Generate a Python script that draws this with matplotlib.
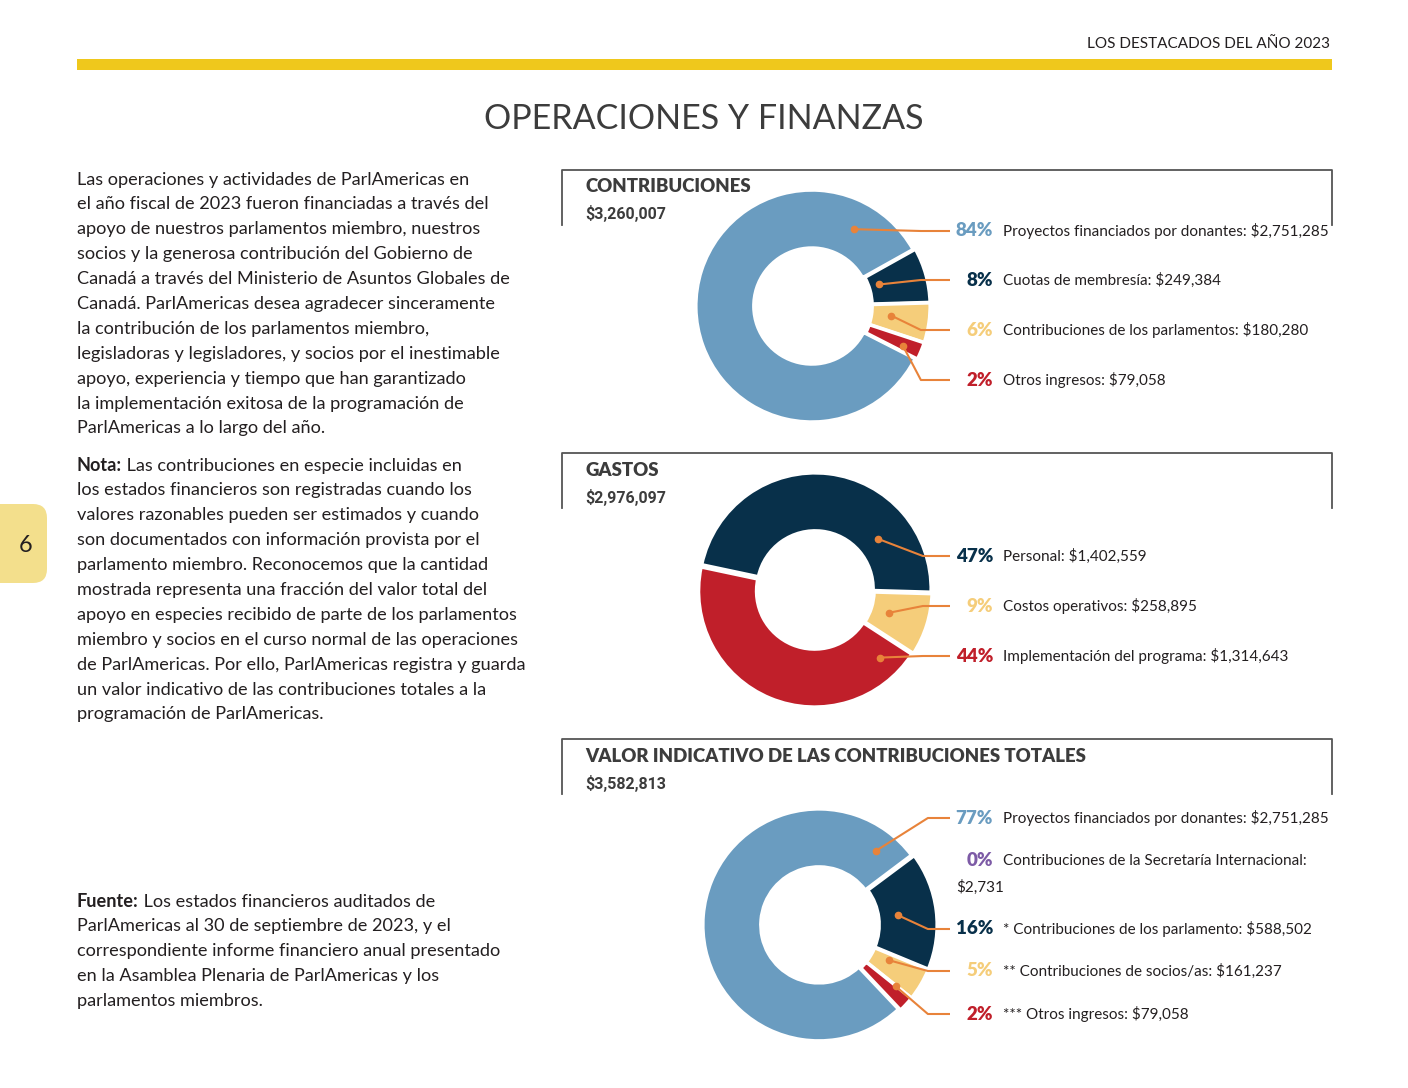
import numpy as np
import matplotlib
matplotlib.use("Agg")
import matplotlib.pyplot as plt
from matplotlib.patches import FancyBboxPatch

# page size in pixels
W, H = 1408, 1088

# ---- data ----
contrib_labels = ["Proyectos financiados por donantes", "Cuotas de membresía",
                  "Contribuciones de los parlamentos", "Otros ingresos"]
contrib_values = [2751285, 249384, 180280, 79058]

gastos_labels = ["Personal", "Costos operativos", "Implementación del programa"]
gastos_values = [1402559, 258895, 1314643]

total_labels = ["Proyectos financiados por donantes", "Contribuciones de la Secretaría Internacional",
                "* Contribuciones de los parlamento", "** Contribuciones de socios/as",
                "*** Otros ingresos"]
total_values = [2751285, 2731, 588502, 161237, 79058]

header = "LOS DESTACADOS DEL AÑO 2023"
title = "OPERACIONES Y FINANZAS"
page_no = "6"

para1 = ["Las operaciones y actividades de ParlAmericas en",
         "el año fiscal de 2023 fueron financiadas a través del",
         "apoyo de nuestros parlamentos miembro, nuestros",
         "socios y la generosa contribución del Gobierno de",
         "Canadá a través del Ministerio de Asuntos Globales de",
         "Canadá. ParlAmericas desea agradecer sinceramente",
         "la contribución de los parlamentos miembro,",
         "legisladoras y legisladores, y socios por el inestimable",
         "apoyo, experiencia y tiempo que han garantizado",
         "la implementación exitosa de la programación de",
         "ParlAmericas a lo largo del año."]
para2 = ["Las contribuciones en especie incluidas en",
         "los estados financieros son registradas cuando los",
         "valores razonables pueden ser estimados y cuando",
         "son documentados con información provista por el",
         "parlamento miembro. Reconocemos que la cantidad",
         "mostrada representa una fracción del valor total del",
         "apoyo en especies recibido de parte de los parlamentos",
         "miembro y socios en el curso normal de las operaciones",
         "de ParlAmericas. Por ello, ParlAmericas registra y guarda",
         "un valor indicativo de las contribuciones totales a la",
         "programación de ParlAmericas."]
para3 = ["Los estados financieros auditados de",
         "ParlAmericas al 30 de septiembre de 2023, y el",
         "correspondiente informe financiero anual presentado",
         "en la Asamblea Plenaria de ParlAmericas y los",
         "parlamentos miembros."]

# ---- styles ----
BLUE, NAVY, SAND, RED, PURPLE = "#6a9cc0", "#08304a", "#f5cd7a", "#c01f2a", "#7d5ba6"
ORANGE = "#e8833a"
TXT = "#231f20"
GREY = "#3c3c3c"
BODY = "Lato"
BODY_FS = 13.1
LAB_FS = 11

fig = plt.figure(figsize=(W / 100, H / 100), dpi=100)
bg = fig.add_axes([0, 0, 1, 1])
bg.set_xlim(0, W)
bg.set_ylim(H, 0)
bg.axis("off")

# header, yellow rule, title
bg.text(1330, 44, header, ha="right", va="center", fontsize=11, color=TXT, family=BODY)
bg.fill_between([77, 1332], 59, 70, color="#efc81c", lw=0)
bg.text(704, 119, title, ha="center", va="center", fontsize=24.5, color=GREY, family=BODY)

# page tab
bg.add_patch(FancyBboxPatch((-30, 504), 77, 79, boxstyle="round,pad=0,rounding_size=14",
                            fc="#f3df8c", ec="none"))
bg.text(26, 545, page_no, ha="center", va="center", fontsize=17, color=TXT, family=BODY)


def paragraph(lines, y0, lead=None, step=24.9):
    for i, line in enumerate(lines):
        y = y0 + i * step
        if i == 0 and lead:
            t = bg.text(77, y, lead, ha="left", va="center", fontsize=BODY_FS, color=TXT,
                        family=BODY, fontweight="bold")
            bg.annotate(" " + line, xy=(1, 0), xycoords=t, ha="left", va="bottom",
                        fontsize=BODY_FS, color=TXT, family=BODY)
        else:
            bg.text(77, y, line, ha="left", va="center", fontsize=BODY_FS, color=TXT,
                    family=BODY)


paragraph(para1, 179.5)
paragraph(para2, 465.5, lead="Nota:")
paragraph(para3, 901.5, lead="Fuente:")

# leader lines go on an overlay above the donuts
top = fig.add_axes([0, 0, 1, 1], zorder=5)
top.set_xlim(0, W)
top.set_ylim(H, 0)
top.axis("off")

R = 116
LIM = 1.2


def panel(y, name, values, labels, colors, cx, cy, startangle, dots, label_ys, pct_colors):
    # box frame
    bg.plot([562, 562, 1332, 1332], [y + 55, y, y, y + 55], color="#555555", lw=1.3)
    bg.text(585, y + 17, name, ha="left", va="center", fontsize=13.4, color=GREY,
            family="Lato", fontweight="heavy")
    total = sum(values)
    bg.text(585, y + 44, f"${total:,}", ha="left", va="center", fontsize=11.5, color=GREY,
            family="Roboto", fontweight="bold")

    ax = fig.add_axes([(cx - R * LIM) / W, (H - cy - R * LIM) / H,
                       2 * R * LIM / W, 2 * R * LIM / H])
    ax.pie(values, colors=colors, startangle=startangle, counterclock=False,
           radius=1.0, explode=[0.01] * len(values),
           wedgeprops=dict(width=0.5, edgecolor="white", linewidth=2.5))
    ax.set_xlim(-LIM, LIM)
    ax.set_ylim(-LIM, LIM)
    ax.axis("off")

    for i, (v, lab) in enumerate(zip(values, labels)):
        pct = f"{round(100 * v / total):d}%"
        ly = label_ys[i]
        top.text(993, ly, pct, ha="right", va="center", fontsize=13.5, color=pct_colors[i],
                 family="Lato", fontweight="heavy")
        if dots[i] is None:
            # no leader; long label wraps
            top.text(1003, ly, lab + ":", ha="left", va="center", fontsize=LAB_FS,
                     color=TXT, family=BODY)
            top.text(956, ly + 26, f"${v:,}", ha="left", va="center", fontsize=LAB_FS,
                     color=TXT, family=BODY)
            continue
        top.text(1003, ly, f"{lab}: ${v:,}", ha="left", va="center", fontsize=LAB_FS,
                 color=TXT, family=BODY)
        ang, rr = dots[i]
        dx = cx + rr * R * np.cos(np.radians(ang))
        dy = cy - rr * R * np.sin(np.radians(ang))
        ex = cx + 0.93 * R
        top.plot([dx, ex, 950], [dy, ly, ly], color=ORANGE, lw=1.5, solid_capstyle="butt")
        top.plot(dx, dy, "o", color=ORANGE, ms=4.5)


panel(170, "CONTRIBUCIONES", contrib_values, contrib_labels,
      [BLUE, NAVY, SAND, RED], 813, 306, -27,
      [(62, 0.75), (18, 0.6), (-7, 0.68), (-24, 0.85)],
      [231, 280, 330, 380], [BLUE, NAVY, SAND, RED])

panel(453, "GASTOS", gastos_values, gastos_labels,
      [NAVY, SAND, RED], 815, 590, 168,
      [(39, 0.7), (-17, 0.67), (-46, 0.81)],
      [556, 606, 656], [NAVY, SAND, RED])

panel(739, "VALOR INDICATIVO DE LAS CONTRIBUCIONES TOTALES", total_values, total_labels,
      [BLUE, PURPLE, NAVY, SAND, RED], 820, 925, -46.6,
      [(53, 0.8), None, (7, 0.68), (-27, 0.67), (-39, 0.84)],
      [818, 861, 929, 971, 1014], [BLUE, PURPLE, NAVY, SAND, RED])

fig.savefig("out.png", dpi=100)
